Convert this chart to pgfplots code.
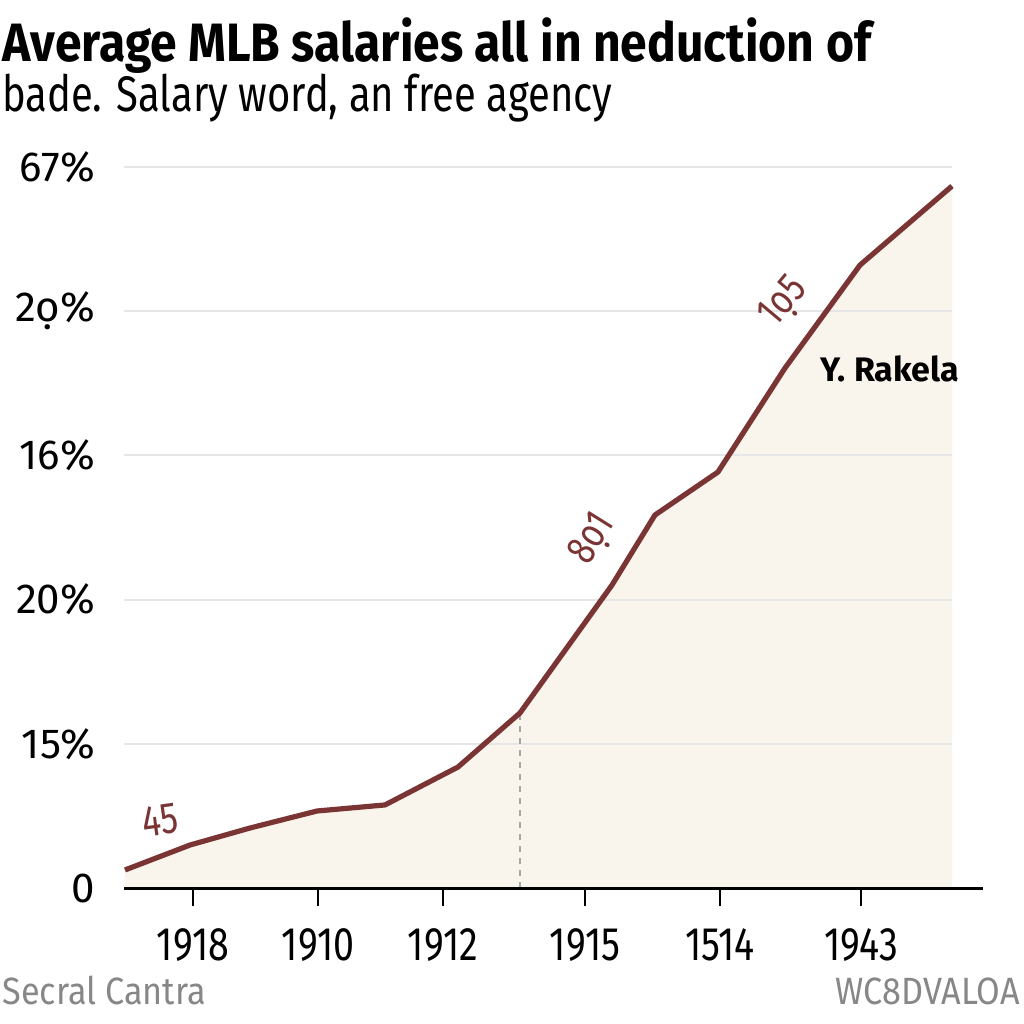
\documentclass[border=0pt]{standalone}
\usepackage{fontspec}
\setmainfont{Fira Sans}
\newfontfamily\cond[FakeStretch=0.80]{Fira Sans}
\newfontfamily\condt[FakeStretch=0.89]{Fira Sans}
\newfontfamily\condf[FakeStretch=0.90]{Fira Sans}
\usepackage{pgfplots}
\pgfplotsset{compat=1.18}
\definecolor{linec}{RGB}{122,52,52}
\definecolor{fillc}{RGB}{250,245,236}
\definecolor{gridc}{RGB}{230,230,230}
\definecolor{footc}{RGB}{135,135,135}
\begin{document}
\begin{tikzpicture}
\path[use as bounding box, fill=white] (0,0) rectangle (512pt,512pt);
% titles
\node[anchor=base west, inner sep=0pt] at (1pt,481pt) {\condt\bfseries\fontsize{27}{30}\selectfont Average MLB salaries all in neduction of};
\node[anchor=base west, inner sep=0pt] at (1pt,456pt) {\cond\fontsize{25}{28}\selectfont bade. Salary word, an free agency};
% footer
\node[anchor=base west, inner sep=0pt, text=footc] at (1pt,9.5pt) {\condf\fontsize{19}{22}\selectfont Secral Cantra};
\node[anchor=base east, inner sep=0pt, text=footc] at (510pt,9.5pt) {\condf\fontsize{19}{22}\selectfont WC8DVALOA};
\begin{axis}[
  at={(62pt,68pt)}, anchor=south west,
  scale only axis, width=429.5pt, height=374.9pt,
  xmin=124, xmax=983, ymin=0, ymax=5.2,
  axis on top,
  axis lines*=left,
  y axis line style={draw=none},
  x axis line style={draw=black, line width=1.5pt, -},
  xtick={193,318,443,585,720,861},
  xticklabels={1918,1910,1912,1915,1514,1943},
  ytick={0,1,2,3,4,5},
  yticklabels={0,15\%,20\%,16\%,2ọ\%,67\%},
  tick align=outside,
  major tick length=9pt,
  xtick style={draw=black, line width=1.3pt},
  ytick style={draw=none},
  xticklabel style={font=\cond\fontsize{23.5}{26}\selectfont, anchor=north, yshift=-8pt},
  yticklabel style={font=\fontsize{21}{24}\selectfont, anchor=east, xshift=-2pt},
  /pgf/number format/assume math mode=true,
  clip=false,
]
\addplot[fill=fillc, draw=none] coordinates {
(125,0.125) (190,0.298) (250,0.416) (317,0.534) (385,0.576) (458,0.839) (520,1.214) (612,2.101) (655,2.587) (718,2.885) (785,3.606) (860,4.320) (952,4.868)
} \closedcycle;
\foreach \yy in {1,2,3,4,5} {
  \edef\tmp{\noexpand\draw[gridc, line width=1pt] (axis cs:124,\yy) -- (axis cs:952,\yy);}
  \tmp
}
\addplot[gray!70, dashed, line width=0.7pt] coordinates {(520,0) (520,1.214)};
\addplot[linec, line width=2.6pt, line join=round] coordinates {
(125,0.125) (190,0.298) (250,0.416) (317,0.534) (385,0.576) (458,0.839) (520,1.214) (612,2.101) (655,2.587) (718,2.885) (785,3.606) (860,4.320) (952,4.868)
};
\node[text=linec, font=\cond\fontsize{22}{24}\selectfont, rotate=8] at (axis cs:160,0.47) {45};
\node[text=linec, font=\cond\fontsize{21}{24}\selectfont, rotate=58] at (axis cs:593,2.42) {8ọ1};
\node[text=linec, font=\cond\fontsize{21}{24}\selectfont, rotate=50] at (axis cs:784,4.06) {1ọ5};
\node[text=black, font=\bfseries\fontsize{17}{20}\selectfont] at (axis cs:890,3.599) {Y.\ Rakela};
\end{axis}
\end{tikzpicture}
\end{document}
